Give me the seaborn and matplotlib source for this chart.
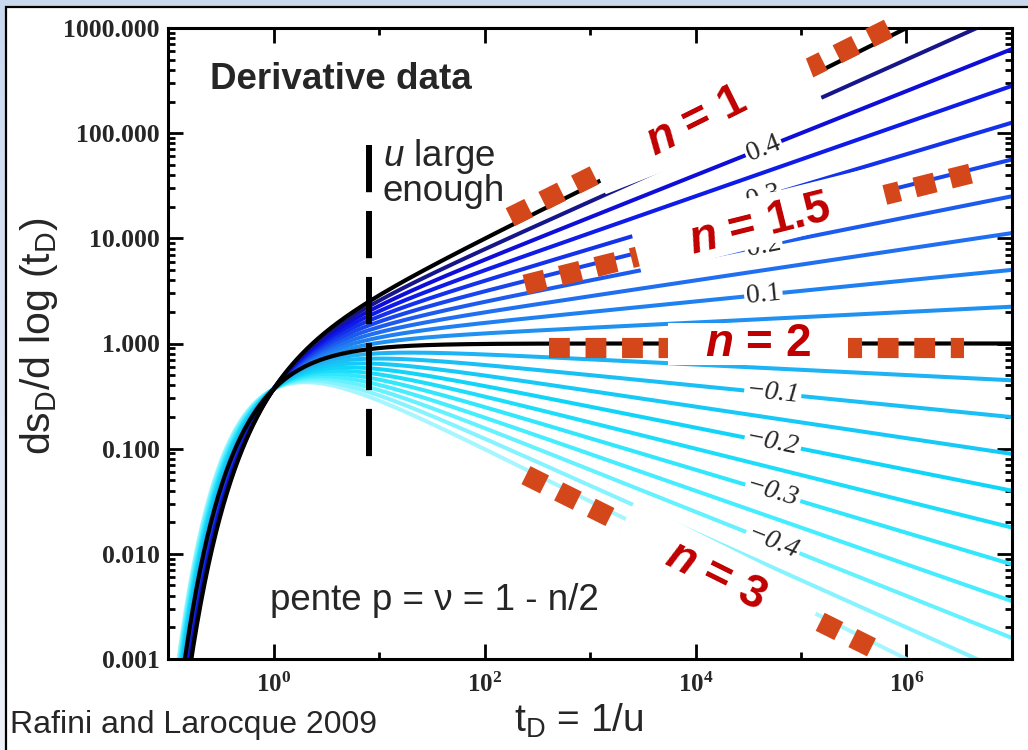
import numpy as np
import pandas as pd
import matplotlib
matplotlib.use("Agg")
import matplotlib.pyplot as plt
import seaborn as sns
from matplotlib.colors import LinearSegmentedColormap
from matplotlib.patches import Rectangle
from matplotlib.transforms import Affine2D, ScaledTranslation
from matplotlib.ticker import FixedLocator, FixedFormatter, LogLocator, NullFormatter

# ---------------------------------------------------------------- data
# late-time log-log slope of each derivative type curve, p = nu = 1 - n/2
slopes = [0.50, 0.45, 0.40, 0.35, 0.30, 0.25, 0.20, 0.15, 0.10, 0.05, 0.00,
          -0.05, -0.10, -0.15, -0.20, -0.25, -0.30, -0.35, -0.40, -0.45, -0.50]
black_slopes = [0.50, 0.00]                      # n = 1 and n = 2

# inline slope labels and the dimensionless time where each sits
label_slopes = [0.5, 0.4, 0.3, 0.2, 0.1, -0.1, -0.2, -0.3, -0.4]
label_texts = ["0.5", "0.4", "0.3", "0.2", "0.1", "−0.1", "−0.2", "−0.3", "−0.4"]
label_times = [7.0e4, 4.4e4, 4.4e4, 4.4e4, 4.4e4, 5.4e4, 5.4e4, 5.4e4, 5.4e4]

# flow dimensions with their hand-placed power-law asymptotes and tags
flow_dims = [1, 1.5, 2, 3]
flow_tags = [r"$\mathbfit{n}$ = 1", r"$\mathbfit{n}$ = 1.5",
             r"$\mathbfit{n}$ = 2", r"$\mathbfit{n}$ = 3"]
asym_start = [175, 242, 408, 247]
asym_end = [8.1e5, 4.5e6, 3.5e6, 6.0e5]
asym_level = [1.20, 0.92, 0.90, 0.88]
tag_t = [1.03e4, 4.08e4, 3.91e4, 1.56e4]
tag_y = [127.6, 13.4, 1.0, 0.00615]

# "u large enough" limit
u_limit_t = 8.0
u_limit_span = [77.0, 0.082]

yticks = [0.001, 0.01, 0.1, 1, 10, 100, 1000]
ytick_labels = ["0.001", "0.010", "0.100", "1.000", "10.000", "100.000", "1000.000"]
xticks = [1, 1e2, 1e4, 1e6]
xtick_labels = [r"$\mathbf{10^{0}}$", r"$\mathbf{10^{2}}$",
                r"$\mathbf{10^{4}}$", r"$\mathbf{10^{6}}$"]
xminor = [10, 1e3, 1e5]

# ---------------------------------------------------------------- style
sns.set_style("ticks")
plt.rcParams["font.family"] = ["Liberation Sans", "DejaVu Sans"]
plt.rcParams["mathtext.fontset"] = "custom"
plt.rcParams["mathtext.rm"] = "Liberation Sans"
plt.rcParams["mathtext.it"] = "Liberation Sans:italic"
plt.rcParams["mathtext.bf"] = "Liberation Serif:bold"
try:
    plt.rcParams["mathtext.bfit"] = "Liberation Sans:italic:bold"
except KeyError:
    pass
plt.rcParams["lines.scale_dashes"] = False

ORANGE = "#d4471a"
DARKRED = "#c00000"

fig = plt.figure(figsize=(10.28, 7.5), dpi=100)

# slide background and white panel
bg = fig.add_axes([0, 0, 1, 1], zorder=-10)
bg.imshow(np.linspace(0, 1, 256)[:, None], aspect="auto", extent=[0, 1, 0, 1],
          cmap=LinearSegmentedColormap.from_list("bg", ["#cad8ef", "#eef1f8"]))
bg.axis("off")
fig.add_artist(Rectangle((6 / 1028, -0.1), 1.2, 0.1 + 1 - 7 / 750,
                         transform=fig.transFigure, fc="white", ec="black",
                         lw=1.6, zorder=-5))

ax = fig.add_axes([168 / 1028, 1 - 659 / 750, 844 / 1028, 631 / 750])
ax.set_facecolor("white")
ax.set_xscale("log")
ax.set_yscale("log")

# ---------------------------------------------------------------- curves
t_grid = np.logspace(-1, 7, 900)


def derivative(t, nu):
    # log-derivative of the generalized radial flow drawdown
    return t ** nu * np.exp(-1.0 / t)


df = pd.concat([pd.DataFrame({"t": t_grid, "deriv": derivative(t_grid, nu), "nu": nu})
                for nu in slopes], ignore_index=True)

ramp = LinearSegmentedColormap.from_list(
    "flow", [(0.0, "#16168a"), (0.06, "#0c0ce6"), (0.30, "#1f6af0"),
             (0.47, "#20a2f2"), (0.53, "#1eb4f4"), (0.70, "#10d8f8"),
             (0.85, "#48eeff"), (1.0, "#a6f6ff")])
colored = [nu for nu in slopes if nu not in black_slopes]
palette = {nu: ramp((0.45 - nu) / 0.95) for nu in colored}

sns.lineplot(data=df[df["nu"].isin(colored)], x="t", y="deriv", hue="nu",
             palette=palette, legend=False, estimator=None, sort=False,
             lw=2.9, ax=ax, zorder=2)
sns.lineplot(data=df[df["nu"].isin(black_slopes)], x="t", y="deriv", units="nu",
             color="black", legend=False, estimator=None, sort=False,
             lw=3.0, ax=ax, zorder=2.5)

ax.set_xlim(0.1, 1e7)
ax.set_ylim(0.001, 1000)
ax.autoscale(False)


def display_angle(nu, t):
    p0 = ax.transData.transform((t, t ** nu))
    p1 = ax.transData.transform((t * 10, (t * 10) ** nu))
    return np.degrees(np.arctan2(p1[1] - p0[1], p1[0] - p0[0]))


# inline slope labels breaking the lines
for nu, txt, tl in zip(label_slopes, label_texts, label_times):
    ax.text(tl, derivative(tl, nu), txt, rotation=display_angle(nu, tl),
            rotation_mode="anchor", ha="center", va="center", fontsize=20,
            family="Liberation Serif", style="italic" if nu < 0 else "normal",
            zorder=3, bbox=dict(fc="white", ec="none", pad=1.5))

# vertical "u large enough" limit
ax.plot([u_limit_t, u_limit_t], u_limit_span, color="black", lw=4.3,
        linestyle=(0, (34, 13.5)), dash_capstyle="butt", zorder=4)
ax.text(10.9, 92, r"$\mathit{u}$ large" + "\nenough", ha="left", va="top",
        fontsize=26.5, linespacing=0.92, zorder=4)

# asymptotes and flow-dimension tags on white masks
box_w = [236, 255, 180, 212]
box_h = [58, 50, 42, 62]
box_tilt = [-5, 0, 0, 0]          # mask rotation relative to the asymptote
box_dx = [8, 0, 0, 0]             # mask centre offset from the tag (px, right)
box_dy = [-2, 4, 0, 0]            # mask centre offset from the tag (px, up)
for i, (n, tag) in enumerate(zip(flow_dims, flow_tags)):
    nu = 1 - n / 2
    ta = np.logspace(np.log10(asym_start[i]), np.log10(asym_end[i]), 200)
    ax.plot(ta, asym_level[i] * ta ** nu, color=ORANGE, lw=14.5,
            linestyle=(0, (15, 11.3)), dash_capstyle="butt", zorder=5,
            clip_on=False)
    ang = display_angle(nu, tag_t[i])
    w, h = box_w[i], box_h[i]
    tr = (Affine2D().rotate_deg(ang + box_tilt[i])
          .translate(box_dx[i] / 100, box_dy[i] / 100)
          + fig.dpi_scale_trans
          + ScaledTranslation(tag_t[i], tag_y[i], ax.transData))
    ax.add_artist(Rectangle((-w / 200, -h / 200), w / 100, h / 100, transform=tr,
                            fc="white", ec="none", zorder=6, clip_on=False))
    ax.text(tag_t[i], tag_y[i], tag, rotation=ang, rotation_mode="anchor",
            ha="center", va="center", fontsize=33, fontweight="bold",
            color=DARKRED, zorder=7)

# ---------------------------------------------------------------- axes
ax.xaxis.set_major_locator(FixedLocator(xticks))
ax.xaxis.set_major_formatter(FixedFormatter(xtick_labels))
ax.xaxis.set_minor_locator(FixedLocator(xminor))
ax.xaxis.set_minor_formatter(NullFormatter())
ax.yaxis.set_major_locator(FixedLocator(yticks))
ax.yaxis.set_major_formatter(FixedFormatter(ytick_labels))
ax.yaxis.set_minor_locator(LogLocator(base=10, subs=np.arange(2, 10), numticks=20))
ax.yaxis.set_minor_formatter(NullFormatter())

ax.tick_params(which="both", direction="in", top=True, right=True, width=2,
               color="black")
ax.tick_params(which="major", length=10.5)
ax.tick_params(which="minor", length=5)
ax.tick_params(axis="y", which="major", pad=6)
ax.tick_params(axis="x", which="major", pad=10, labelsize=18)
for lab in ax.get_yticklabels():
    lab.set_fontfamily("Liberation Serif")
    lab.set_fontweight("bold")
    lab.set_fontsize(18.5)
for sp in ax.spines.values():
    sp.set_linewidth(2.2)
    sp.set_color("black")
    sp.set_visible(True)

ax.set_xlabel(r"t$_{\mathrm{D}}$ = 1/u", fontsize=28)
ax.xaxis.set_label_coords(0.487, -0.068)
ax.set_ylabel(r"ds$_{\mathrm{D}}$/d log (t$_{\mathrm{D}}$)", fontsize=29.5)
ax.yaxis.set_label_coords(-0.128, 0.512)

ax.text(0.0498, 0.9176, "Derivative data", transform=ax.transAxes, ha="left",
        va="center", fontsize=26.5, fontweight="bold", zorder=8)
ax.text(0.1209, 0.0935, "pente p = ν = 1 - n/2", transform=ax.transAxes,
        ha="left", va="center", fontsize=26.5, zorder=8)
fig.text(10 / 1028, 1 - 725 / 750, "Rafini and Larocque 2009", ha="left",
         va="center", fontsize=23)

fig.savefig("out.png", dpi=100)
